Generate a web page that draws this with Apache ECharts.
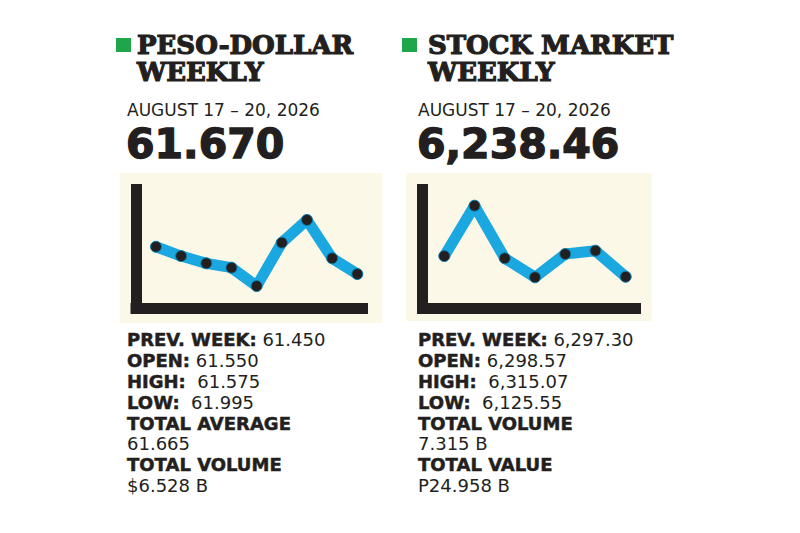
<!DOCTYPE html>
<html>
<head>
<meta charset="utf-8">
<script src="https://cdn.jsdelivr.net/npm/echarts@6/dist/echarts.min.js"></script>
<style>
html,body{margin:0;padding:0;background:#ffffff;}
#chart{width:800px;height:533px;}
</style>
</head>
<body>
<div id="chart"></div>
<script>
// ---- data ----
const pesoPoints = ['1','2','3','4','5','6','7','8','9'];
const pesoValues = [49.4, 41.9, 36.0, 32.5, 17.7, 52.7, 71.0, 40.1, 27.4];
const stockPoints = ['1','2','3','4','5','6','7'];
const stockValues = [41.9, 82.5, 40.1, 24.8, 43.5, 46.2, 25.2];

const pesoTitle = 'PESO-DOLLAR\nWEEKLY';
const stockTitle = 'STOCK MARKET\nWEEKLY';
const dateLabel = 'AUGUST 17 – 20, 2026';
const pesoClose = '61.670';
const stockClose = '6,238.46';
const pesoStats = [
  ['PREV. WEEK:', ' 61.450'],
  ['OPEN:', ' 61.550'],
  ['HIGH:', '  61.575'],
  ['LOW:', '  61.995'],
  ['TOTAL AVERAGE', ''],
  ['', '61.665'],
  ['TOTAL VOLUME', ''],
  ['', '$6.528 B']
];
const stockStats = [
  ['PREV. WEEK:', ' 6,297.30'],
  ['OPEN:', ' 6,298.57'],
  ['HIGH:', '  6,315.07'],
  ['LOW:', '  6,125.55'],
  ['TOTAL VOLUME', ''],
  ['', '7.315 B'],
  ['TOTAL VALUE', ''],
  ['', 'P24.958 B']
];

// ---- styles ----
const INK = '#231f20';
const BLUE = '#1ba8e0';
const GREEN = '#1fa64b';
const CREAM = '#fcf8e8';
const headFont = 'DejaVu Serif';
const bodyFont = 'DejaVu Sans';

function statsText(rows) {
  return rows.map(r => {
    let s = '';
    if (r[0]) s += '{b|' + r[0] + '}';
    if (r[1]) s += '{r|' + r[1] + '}';
    return s;
  }).join('\n');
}
const statRich = {
  b: {fontFamily: bodyFont, fontWeight: 'bold', fontSize: 18, color: INK, lineHeight: 20.8,
      textBorderColor: INK, textBorderWidth: 0.5},
  r: {fontFamily: bodyFont, fontWeight: 'normal', fontSize: 18, color: INK, lineHeight: 20.8}
};

function headerTitles(x, title, close, stats) {
  return [
    {text: title, left: x + 10, top: 31.5, padding: 0,
     textStyle: {fontFamily: headFont, fontWeight: 'bold', fontSize: 26, lineHeight: 27, color: INK,
                 textBorderColor: INK, textBorderWidth: 1.2}},
    {text: dateLabel, left: x, top: 99.5, padding: 0,
     textStyle: {fontFamily: bodyFont, fontWeight: 'normal', fontSize: 17, lineHeight: 20, color: INK}},
    {text: close, left: x - 1, top: 121.7, padding: 0,
     textStyle: {fontFamily: bodyFont, fontWeight: 'bold', fontSize: 41, lineHeight: 44, color: INK,
                 textBorderColor: INK, textBorderWidth: 1.4}},
    {text: statsText(stats), left: x, top: 329.5, padding: 0,
     textStyle: {rich: statRich}}
  ];
}

const frameAxis = (gi) => ({
  type: 'value', gridIndex: gi, min: 0, max: 1,
  axisLine: {show: true, onZero: false, lineStyle: {color: INK, width: 11, cap: 'square'}},
  axisTick: {show: false}, axisLabel: {show: false}, splitLine: {show: false}
});

const chart = echarts.init(document.getElementById('chart'), null, {renderer: 'svg'});
chart.setOption({
  backgroundColor: '#ffffff',
  animation: false,
  title: [].concat(
    headerTitles(127, pesoTitle, pesoClose, pesoStats),
    headerTitles(418, stockTitle, stockClose, stockStats)
  ),
  graphic: [
    {type: 'rect', z: -10, shape: {x: 120, y: 173, width: 262, height: 150}, style: {fill: CREAM}},
    {type: 'rect', z: -10, shape: {x: 406, y: 173, width: 246, height: 148}, style: {fill: CREAM}},
    {type: 'rect', shape: {x: 116, y: 38, width: 15, height: 14}, style: {fill: GREEN}},
    {type: 'rect', shape: {x: 402, y: 38, width: 15, height: 14}, style: {fill: GREEN}}
  ],
  grid: [
    {left: 136, top: 189.5, width: 226.5, height: 118.5},
    {left: 143.4, top: 184, width: 226.5, height: 124},
    {left: 422.5, top: 189.5, width: 213, height: 119},
    {left: 429.2, top: 184, width: 211.6, height: 124}
  ],
  xAxis: [
    frameAxis(0),
    {type: 'category', gridIndex: 1, data: pesoPoints, boundaryGap: true, show: false},
    frameAxis(2),
    {type: 'category', gridIndex: 3, data: stockPoints, boundaryGap: true, show: false}
  ],
  yAxis: [
    frameAxis(0),
    {type: 'value', gridIndex: 1, min: 0, max: 100, show: false},
    frameAxis(2),
    {type: 'value', gridIndex: 3, min: 0, max: 100, show: false}
  ],
  series: [
    {type: 'line', xAxisIndex: 1, yAxisIndex: 1, data: pesoValues,
     symbol: 'circle', symbolSize: 11,
     lineStyle: {color: BLUE, width: 11, cap: 'round', join: 'round'},
     itemStyle: {color: INK, borderColor: '#0e7fb0', borderWidth: 1}},
    {type: 'line', xAxisIndex: 3, yAxisIndex: 3, data: stockValues,
     symbol: 'circle', symbolSize: 11,
     lineStyle: {color: BLUE, width: 11, cap: 'round', join: 'round'},
     itemStyle: {color: INK, borderColor: '#0e7fb0', borderWidth: 1}}
  ]
});
</script>
</body>
</html>
